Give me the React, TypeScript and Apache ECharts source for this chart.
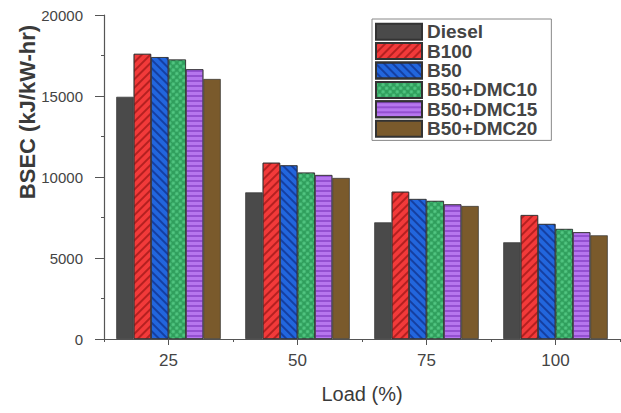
import React, { useEffect, useRef } from "react";
import * as echarts from "echarts";

const categories = ["25", "50", "75", "100"];
const seriesNames = ["Diesel", "B100", "B50", "B50+DMC10", "B50+DMC15", "B50+DMC20"];
const diesel = [14950, 9050, 7200, 5970];
const b100 = [17600, 10880, 9090, 7650];
const b50 = [17400, 10720, 8640, 7100];
const dmc10 = [17250, 10270, 8520, 6790];
const dmc15 = [16650, 10120, 8310, 6590];
const dmc20 = [16050, 9940, 8210, 6400];
const yTicks = [0, 5000, 10000, 15000, 20000];

const FONT = "'Liberation Sans', Arial, sans-serif";

export default function App() {
  const ref = useRef<HTMLDivElement>(null);
  useEffect(() => {
    if (!ref.current) return;
    const chart = echarts.init(ref.current, null, { renderer: "svg" });
    const values = [diesel, b100, b50, dmc10, dmc15, dmc20];
    const colors = ["#4a4a4a", "#f23a3a", "#2266dd", "#2f9e5c", "#b676ee", "#7a5a2c"];
    const decals: any[] = [
      null,
      { symbol: "rect", color: "rgba(130,10,10,0.55)", dashArrayX: [1, 0], dashArrayY: [2, 4], rotation: -Math.PI / 4 },
      { symbol: "rect", color: "rgba(10,30,110,0.55)", dashArrayX: [1, 0], dashArrayY: [2, 4], rotation: Math.PI / 4 },
      { symbol: "circle", symbolSize: 0.85, color: "#52c682", dashArrayX: [4, 1], dashArrayY: [4, 1], rotation: Math.PI / 4 },
      { symbol: "rect", color: "rgba(125,55,190,0.6)", dashArrayX: [1, 0], dashArrayY: [1.5, 2.5], rotation: 0 },
      null,
    ];
    const series = seriesNames.map((name, i) => {
      const itemStyle: any = { color: colors[i], borderColor: "#333", borderWidth: 0.7 };
      if (decals[i]) itemStyle.decal = decals[i];
      return {
        name,
        type: "bar",
        xAxisIndex: 0,
        yAxisIndex: 0,
        data: values[i],
        barGap: "0%",
        barCategoryGap: "19%",
        itemStyle,
      };
    });
    chart.setOption({
      animation: false,
      aria: { enabled: false },
      textStyle: { fontFamily: FONT },
      grid: { left: 104, right: 1, top: 15, bottom: 74, containLabel: false },
      legend: {
        orient: "vertical",
        left: 372,
        top: 19,
        icon: "rect",
        itemWidth: 46,
        itemHeight: 16,
        itemGap: 0,
        padding: [3, 14, 2, 3],
        borderColor: "#888",
        borderWidth: 1,
        backgroundColor: "#fff",
        textStyle: { fontSize: 19, fontWeight: "bold", color: "#444", fontFamily: FONT, lineHeight: 19.4 },
        data: seriesNames,
      },
      xAxis: [
        {
          type: "category",
          data: categories,
          name: "Load (%)",
          nameLocation: "middle",
          nameGap: 45,
          nameTextStyle: { fontSize: 20, color: "#3a3a3a", fontFamily: FONT },
          axisLine: { show: true, lineStyle: { color: "#555", width: 1.2 } },
          axisTick: { show: true, alignWithLabel: true, length: 6, lineStyle: { color: "#555" } },
          axisLabel: { fontSize: 17, color: "#444", margin: 13, fontFamily: FONT },
          splitLine: { show: false },
        },
        {
          type: "category",
          data: categories,
          position: "bottom",
          axisLine: { show: false },
          axisTick: { show: true, length: 3, lineStyle: { color: "#555" } },
          axisLabel: { show: false },
          splitLine: { show: false },
        },
      ],
      yAxis: {
        type: "value",
        min: 0,
        max: 20000,
        interval: 5000,
        axisLine: { show: true, lineStyle: { color: "#555", width: 1.2 } },
        axisTick: { show: true, length: 9, lineStyle: { color: "#555" } },
        minorTick: { show: true, splitNumber: 2, length: 3, lineStyle: { color: "#555" } },
        axisLabel: {
          fontSize: 15,
          color: "#444",
          margin: 21,
          fontFamily: FONT,
          formatter: (v: number) => (yTicks.includes(v) ? String(v) : ""),
        },
        splitLine: { show: false },
      },
      graphic: [
        {
          type: "text",
          x: 27,
          y: 112,
          rotation: Math.PI / 2,
          style: {
            text: "BSEC (kJ/kW-hr)",
            fontSize: 22,
            fontWeight: "bold",
            fontFamily: FONT,
            fill: "#3a3a3a",
            align: "center",
            verticalAlign: "middle",
          },
        },
      ],
      series,
    });
    return () => chart.dispose();
  }, []);
  return <div ref={ref} style={{ position: "absolute", left: 0, top: 0, width: 621, height: 413 }} />;
}
